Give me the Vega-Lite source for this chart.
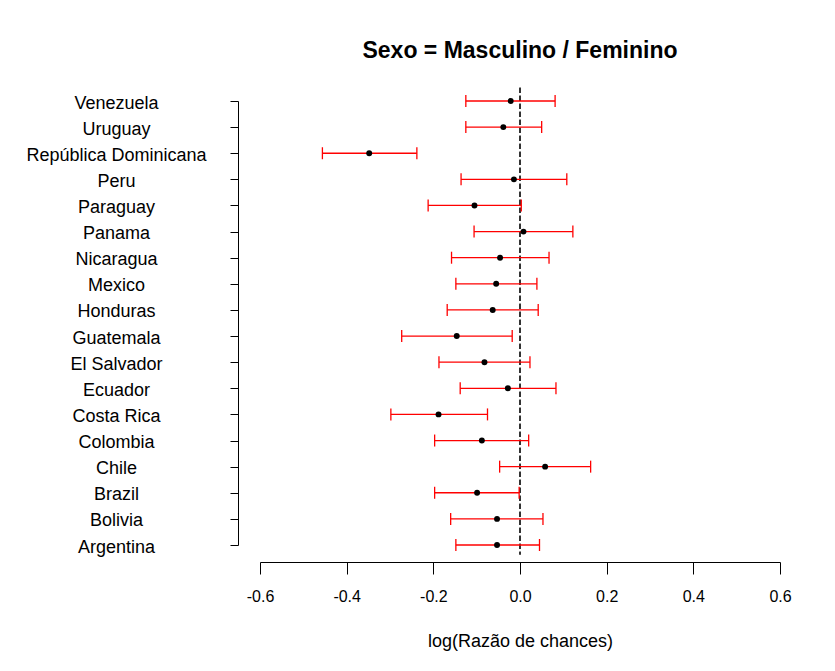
{
  "$schema": "https://vega.github.io/schema/vega-lite/v6.json",
  "autosize": {"type": "none"},
  "padding": {"left": 260, "top": 101, "right": 55, "bottom": 126},
  "width": 520,
  "height": 444,
  "background": "white",
  "title": {
    "text": "Sexo = Masculino / Feminino",
    "font": "Liberation Sans",
    "fontSize": 23,
    "fontWeight": "bold",
    "color": "#000",
    "anchor": "middle",
    "offset": 24
  },
  "config": {
    "view": {"stroke": null},
    "font": "Liberation Sans"
  },
  "data": {
    "values": [
      {"pais": "Venezuela", "est": -0.0215, "lo": -0.125, "hi": 0.081},
      {"pais": "Uruguay", "est": -0.0385, "lo": -0.125, "hi": 0.050},
      {"pais": "República Dominicana", "est": -0.348, "lo": -0.456, "hi": -0.238},
      {"pais": "Peru", "est": -0.014, "lo": -0.136, "hi": 0.108},
      {"pais": "Paraguay", "est": -0.105, "lo": -0.212, "hi": 0.003},
      {"pais": "Panama", "est": 0.008, "lo": -0.106, "hi": 0.122},
      {"pais": "Nicaragua", "est": -0.046, "lo": -0.158, "hi": 0.067},
      {"pais": "Mexico", "est": -0.055, "lo": -0.148, "hi": 0.039},
      {"pais": "Honduras", "est": -0.063, "lo": -0.168, "hi": 0.042},
      {"pais": "Guatemala", "est": -0.146, "lo": -0.273, "hi": -0.018},
      {"pais": "El Salvador", "est": -0.082, "lo": -0.187, "hi": 0.023},
      {"pais": "Ecuador", "est": -0.028, "lo": -0.138, "hi": 0.083},
      {"pais": "Costa Rica", "est": -0.188, "lo": -0.298, "hi": -0.075},
      {"pais": "Colombia", "est": -0.088, "lo": -0.197, "hi": 0.020},
      {"pais": "Chile", "est": 0.058, "lo": -0.047, "hi": 0.163},
      {"pais": "Brazil", "est": -0.099, "lo": -0.197, "hi": -0.002},
      {"pais": "Bolivia", "est": -0.053, "lo": -0.160, "hi": 0.053},
      {"pais": "Argentina", "est": -0.053, "lo": -0.148, "hi": 0.045}
    ]
  },
  "layer": [
    {
      "mark": {"type": "rule", "strokeDash": [5, 3], "color": "#333", "strokeWidth": 1},
      "encoding": {
        "x": {"datum": 0, "type": "quantitative"},
        "y": {"datum": 17.5, "type": "quantitative", "scale": {"domain": [0, 17], "nice": false, "zero": false}, "axis": null},
        "y2": {"datum": -0.35}
      }
    },
    {
      "encoding": {
        "y": {
          "field": "pais",
          "type": "nominal",
          "scale": {
            "type": "point",
            "padding": 0,
            "domain": ["Venezuela", "Uruguay", "República Dominicana", "Peru", "Paraguay", "Panama", "Nicaragua", "Mexico", "Honduras", "Guatemala", "El Salvador", "Ecuador", "Costa Rica", "Colombia", "Chile", "Brazil", "Bolivia", "Argentina"]
          },
          "axis": {
            "title": null,
            "offset": 22,
            "domainColor": "#000",
            "domainWidth": 1,
            "tickColor": "#000",
            "tickSize": 8,
            "tickWidth": 1,
            "labelAlign": "center",
            "labelBaseline": "middle",
            "labelPadding": 114,
            "labelOffset": 2,
            "labelFont": "Liberation Sans",
            "labelFontSize": 18,
            "labelColor": "#000",
            "labelLimit": 400,
            "grid": false
          }
        }
      },
      "layer": [
        {
          "mark": {"type": "rule", "color": "#ff0000", "strokeWidth": 1.3},
          "encoding": {
            "x": {"field": "lo", "type": "quantitative"},
            "x2": {"field": "hi"}
          }
        },
        {
          "mark": {"type": "tick", "color": "#ff0000", "size": 12, "thickness": 1.3, "opacity": 1},
          "encoding": {
            "x": {"field": "lo", "type": "quantitative"}
          }
        },
        {
          "mark": {"type": "tick", "color": "#ff0000", "size": 12, "thickness": 1.3, "opacity": 1},
          "encoding": {
            "x": {"field": "hi", "type": "quantitative"}
          }
        },
        {
          "mark": {"type": "point", "filled": true, "color": "#000", "size": 35, "opacity": 1},
          "encoding": {
            "x": {
              "field": "est",
              "type": "quantitative",
              "scale": {"domain": [-0.6, 0.6], "nice": false, "zero": false},
              "axis": {
                "title": "log(Razão de chances)",
                "values": [-0.6, -0.4, -0.2, 0, 0.2, 0.4, 0.6],
                "labelExpr": "replace(format(datum.value, '.1f'), '\u2212', '-')",
                "offset": 17,
                "grid": false,
                "domainColor": "#000",
                "tickColor": "#000",
                "tickSize": 12,
                "labelPadding": 14,
                "labelFont": "Liberation Sans",
                "labelFontSize": 16,
                "labelColor": "#000",
                "labelFlush": false,
                "titleFont": "Liberation Sans",
                "titleFontSize": 18,
                "titleFontWeight": "normal",
                "titleColor": "#000",
                "titlePadding": 28
              }
            }
          }
        }
      ]
    }
  ],
  "resolve": {"scale": {"y": "independent"}}
}
